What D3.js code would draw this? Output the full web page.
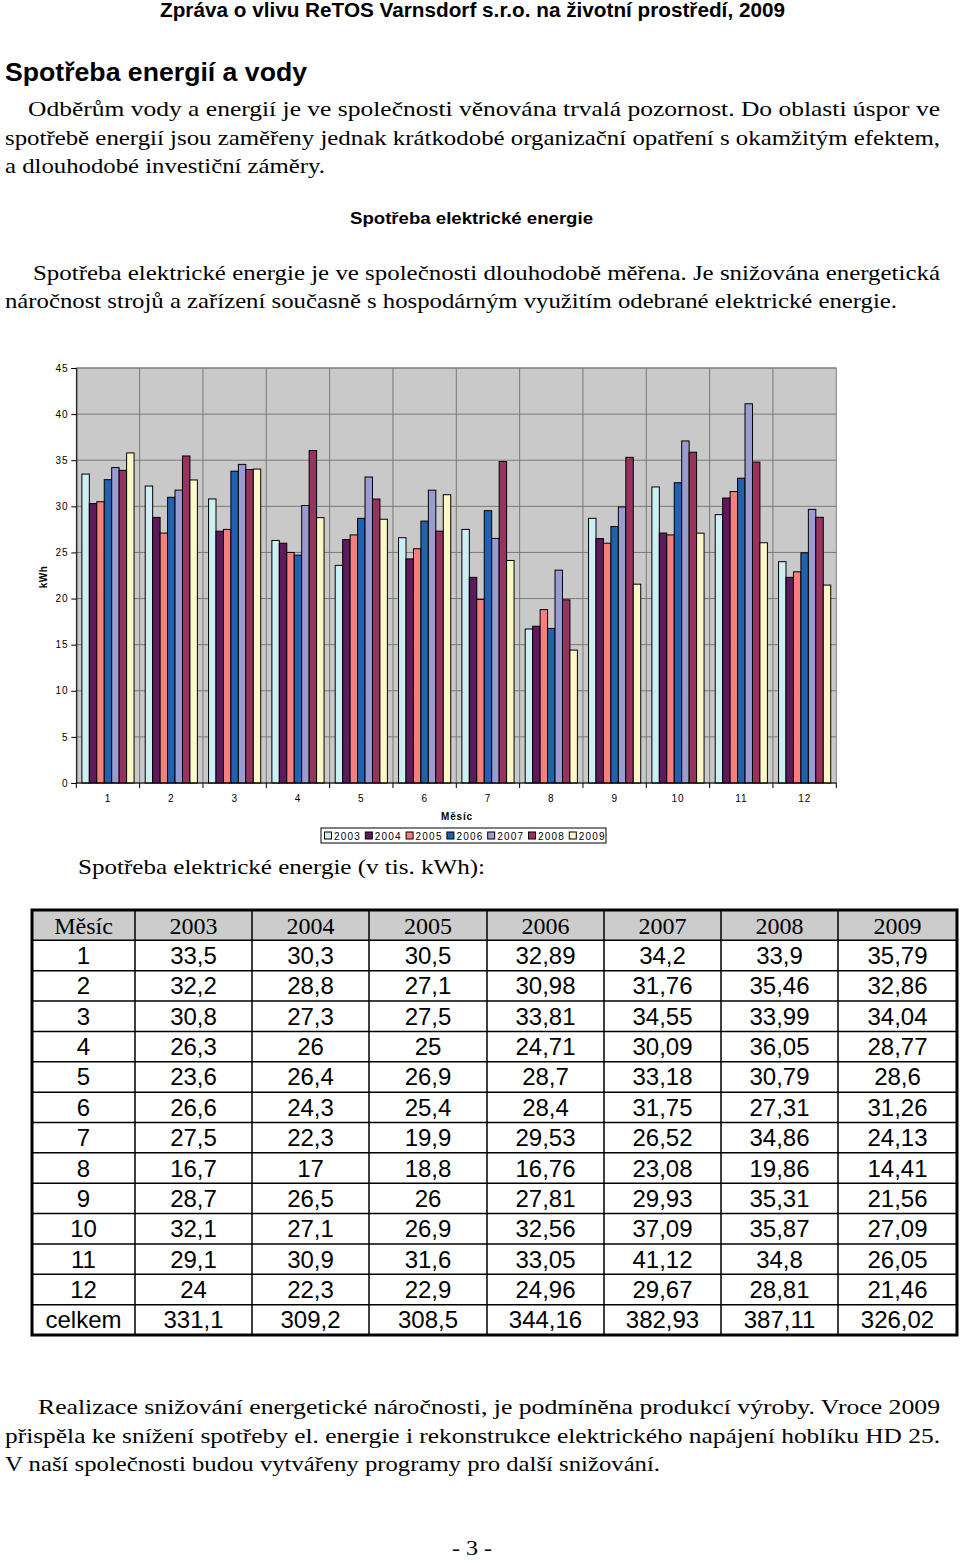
<!DOCTYPE html>
<html><head><meta charset="utf-8">
<script src="https://cdn.jsdelivr.net/npm/d3@7"></script>
<style>html,body{margin:0;padding:0;background:#fff;}svg{display:block;}</style>
</head><body>
<script>
const months = ["1","2","3","4","5","6","7","8","9","10","11","12"];
const years = ["2003","2004","2005","2006","2007","2008","2009"];
const v2003 = [33.5,32.2,30.8,26.3,23.6,26.6,27.5,16.7,28.7,32.1,29.1,24];
const v2004 = [30.3,28.8,27.3,26,26.4,24.3,22.3,17,26.5,27.1,30.9,22.3];
const v2005 = [30.5,27.1,27.5,25,26.9,25.4,19.9,18.8,26,26.9,31.6,22.9];
const v2006 = [32.89,30.98,33.81,24.71,28.7,28.4,29.53,16.76,27.81,32.56,33.05,24.96];
const v2007 = [34.2,31.76,34.55,30.09,33.18,31.75,26.52,23.08,29.93,37.09,41.12,29.67];
const v2008 = [33.9,35.46,33.99,36.05,30.79,27.31,34.86,19.86,35.31,35.87,34.8,28.81];
const v2009 = [35.79,32.86,34.04,28.77,28.6,31.26,24.13,14.41,21.56,27.09,26.05,21.46];
const totals = ["331,1","309,2","308,5","344,16","382,93","387,11","326,02"];
const yTicks = [0,5,10,15,20,25,30,35,40,45];
const colors = ["#cdeef2","#5e1a5c","#f47f7d","#2161ad","#9b9bd2","#98335f","#fcf8c8"];

const series = [v2003,v2004,v2005,v2006,v2007,v2008,v2009];
const fmt = v => String(v).replace(".", ",");

const W = 960, H = 1563;
const svg = d3.select("body").append("svg").attr("width", W).attr("height", H);
svg.append("rect").attr("width", W).attr("height", H).attr("fill", "#fff");

const serif = "Liberation Serif, Times New Roman, Tinos, Times, Nimbus Roman, FreeSerif, serif";
const sans = "Liberation Sans, Arial, Arimo, Helvetica, sans-serif";
const narrow = "Liberation Sans Narrow, Arial Narrow, Liberation Sans, Arial, sans-serif";

function line(txt, x, y, len, opts) {
  opts = opts || {};
  const t = svg.append("text").attr("x", x).attr("y", y).text(txt)
    .style("font-family", opts.family || serif)
    .attr("font-size", opts.size || 22)
    .attr("font-weight", opts.weight || "normal")
    .attr("fill", "#000");
  if (len) t.attr("textLength", len).attr("lengthAdjust", "spacingAndGlyphs");
  return t;
}

// Page header & text
line("Zpráva o vlivu ReTOS Varnsdorf s.r.o. na životní prostředí, 2009", 160, 17, 625, {family: narrow, size: 20, weight: "bold"});
line("Spotřeba energií a vody", 5, 81, 302, {family: narrow, size: 26, weight: "bold"});
line("Odběrům vody a energií je ve společnosti věnována trvalá pozornost. Do oblasti úspor ve", 28, 116, 912);
line("spotřebě energií jsou zaměřeny jednak krátkodobé organizační opatření s okamžitým efektem,", 5, 145, 935);
line("a dlouhodobé investiční záměry.", 5, 173, 320);
line("Spotřeba elektrické energie", 350, 224, 243, {family: narrow, size: 17, weight: "bold"});
line("Spotřeba elektrické energie je ve společnosti dlouhodobě měřena. Je snižována energetická", 33, 280, 907);
line("náročnost strojů a zařízení současně s hospodárným využitím odebrané elektrické energie.", 5, 308, 892);

// Chart
const plot = {l: 76.3, r: 836.3, t: 368, b: 783};
const x0 = d3.scaleBand().domain(months).range([plot.l, plot.r]).paddingInner(0.176).paddingOuter(0.088);
const x1 = d3.scaleBand().domain(years).range([0, x0.bandwidth()]);
const y = d3.scaleLinear().domain([0, 45]).range([plot.b, plot.t]);
const step = x0.step();

const g = svg.append("g");
g.append("rect").attr("x", plot.l).attr("y", plot.t).attr("width", plot.r - plot.l).attr("height", plot.b - plot.t)
  .attr("fill", "#c9c9c9").attr("stroke", "#808080").attr("stroke-width", 1);
g.selectAll(".hg").data(yTicks.filter(d => d > 0)).join("line")
  .attr("x1", plot.l).attr("x2", plot.r).attr("y1", d => y(d)).attr("y2", d => y(d))
  .attr("stroke", "#7a7a7a").attr("stroke-width", 1);
const bounds = d3.range(1, months.length).map(i => plot.l + i * step);
g.selectAll(".vg").data(bounds).join("line")
  .attr("x1", d => d).attr("x2", d => d).attr("y1", plot.t).attr("y2", plot.b)
  .attr("stroke", "#7a7a7a").attr("stroke-width", 1);

years.forEach((yr, si) => {
  g.selectAll(".b" + yr).data(series[si]).join("rect")
    .attr("x", (d, i) => x0(months[i]) + x1(yr))
    .attr("y", d => y(d))
    .attr("width", x1.bandwidth())
    .attr("height", d => plot.b - y(d))
    .attr("fill", colors[si]).attr("stroke", "#000").attr("stroke-width", 1);
});

const yAxis = d3.axisLeft(y).tickValues(yTicks).tickSize(5).tickPadding(3);
const ya = g.append("g").attr("transform", `translate(${plot.l},0)`).call(yAxis);
ya.select(".domain").attr("stroke", "#000");
ya.selectAll("line").attr("stroke", "#000");
ya.selectAll("text").style("font-family", sans).attr("font-size", 10).attr("letter-spacing", 0.8).attr("fill", "#000");

const xa = g.append("g").attr("transform", `translate(0,${plot.b})`);
xa.append("line").attr("x1", plot.l).attr("x2", plot.r).attr("y1", 0).attr("y2", 0).attr("stroke", "#000");
xa.selectAll(".xt").data(d3.range(0, months.length + 1).map(i => plot.l + i * step)).join("line")
  .attr("x1", d => d).attr("x2", d => d).attr("y1", 0).attr("y2", 5).attr("stroke", "#000");
xa.selectAll(".xl").data(months).join("text")
  .attr("x", d => x0(d) + x0.bandwidth() / 2).attr("y", 19)
  .attr("text-anchor", "middle").style("font-family", sans).attr("font-size", 10).attr("letter-spacing", 0.8)
  .text(d => d);

g.append("text").attr("x", 457).attr("y", 820).attr("text-anchor", "middle")
  .style("font-family", sans).attr("font-size", 10).attr("font-weight", "bold").attr("letter-spacing", 0.8).text("Měsíc");
g.append("text").attr("transform", "translate(47,577) rotate(-90)").attr("text-anchor", "middle")
  .style("font-family", sans).attr("font-size", 10).attr("font-weight", "bold").attr("letter-spacing", 0.5).text("kWh");

const lg = g.append("g").attr("transform", "translate(321,828)");
lg.append("rect").attr("width", 285).attr("height", 15).attr("fill", "#fff").attr("stroke", "#000");
const li = lg.selectAll(".li").data(years).join("g").attr("transform", (d, i) => `translate(${3 + i * 40.8},0)`);
li.append("rect").attr("x", 0.5).attr("y", 4).attr("width", 7).attr("height", 7)
  .attr("fill", (d, i) => colors[i]).attr("stroke", "#000");
li.append("text").attr("x", 10).attr("y", 11.5).style("font-family", sans).attr("font-size", 10)
  .attr("letter-spacing", 1.2).text(d => d);

line("Spotřeba elektrické energie  (v tis. kWh):", 78, 874, 407, {size: 22});

// table
const colX = [32, 135, 252, 369, 487, 604, 721, 838, 957];
const tTop = 910, tBot = 1335;
const rows = months.map((m, i) => [m].concat(series.map(s => fmt(s[i]))));
rows.push(["celkem"].concat(totals));
const nRows = rows.length + 1;
const rh = (tBot - tTop) / nRows;
const tg = svg.append("g");
tg.append("rect").attr("x", colX[0]).attr("y", tTop).attr("width", colX[8] - colX[0]).attr("height", rh)
  .attr("fill", "#cccccc");
tg.selectAll(".hr").data(d3.range(1, nRows)).join("line")
  .attr("x1", colX[0]).attr("x2", colX[8]).attr("y1", d => tTop + d * rh).attr("y2", d => tTop + d * rh)
  .attr("stroke", "#000").attr("stroke-width", 1.5);
tg.selectAll(".vr").data(colX.slice(1, 8)).join("line")
  .attr("x1", d => d).attr("x2", d => d).attr("y1", tTop).attr("y2", tBot)
  .attr("stroke", "#000").attr("stroke-width", 1.5);
tg.append("rect").attr("x", colX[0]).attr("y", tTop).attr("width", colX[8] - colX[0]).attr("height", tBot - tTop)
  .attr("fill", "none").attr("stroke", "#000").attr("stroke-width", 3);
const header = ["Měsíc"].concat(years);
header.forEach((h, c) => {
  tg.append("text").attr("x", (colX[c] + colX[c + 1]) / 2).attr("y", tTop + rh / 2 + 8.5)
    .attr("text-anchor", "middle").style("font-family", serif).attr("font-size", 24).text(h);
});
rows.forEach((r, ri) => {
  r.forEach((cell, c) => {
    tg.append("text").attr("x", (colX[c] + colX[c + 1]) / 2).attr("y", tTop + (ri + 1) * rh + rh / 2 + 8.5)
      .attr("text-anchor", "middle").style("font-family", sans).attr("font-size", 24).text(cell);
  });
});

line("Realizace snižování energetické náročnosti, je podmíněna produkcí výroby. Vroce 2009", 38, 1414, 902);
line("přispěla ke snížení spotřeby el. energie i rekonstrukce elektrického napájení hoblíku HD 25.", 5, 1443, 935);
line("V naší společnosti budou vytvářeny programy pro další snižování.", 5, 1471, 655);
line("- 3 -", 452, 1555, 40, {size: 20});
</script>
</body></html>
